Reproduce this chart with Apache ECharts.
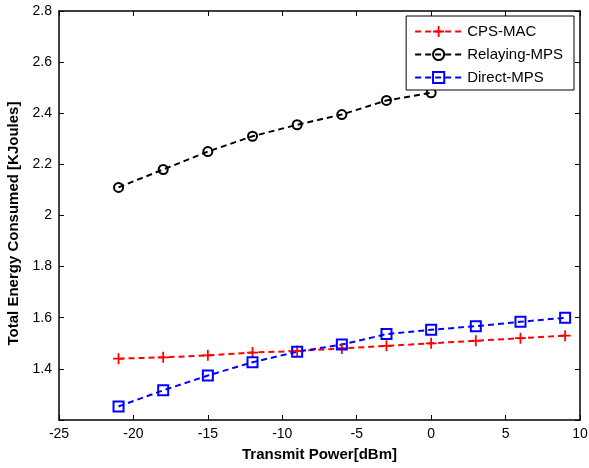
<!DOCTYPE html>
<html><head><meta charset="utf-8">
<script src="https://cdn.jsdelivr.net/npm/echarts@6/dist/echarts.min.js"></script>
<style>html,body{margin:0;padding:0;background:#fff}#c{width:589px;height:468px}</style>
</head><body><div id="c"></div>
<script>
const xCps = [-21,-18,-15,-12,-9,-6,-3,0,3,6,9];
const cpsMac = [1.44,1.445,1.453,1.464,1.47,1.48,1.49,1.50,1.51,1.52,1.53];
const xRelay = [-21,-18,-15,-12,-9,-6,-3,0];
const relayingMps = [2.11,2.18,2.25,2.31,2.355,2.395,2.45,2.48];
const xDirect = [-21,-18,-15,-12,-9,-6,-3,0,3,6,9];
const directMps = [1.253,1.316,1.374,1.426,1.467,1.495,1.536,1.553,1.567,1.584,1.60];
const seriesNames = ['CPS-MAC','Relaying-MPS','Direct-MPS'];
const xTicks = [-25,-20,-15,-10,-5,0,5,10];
const yTicks = [1.4,1.6,1.8,2,2.2,2.4,2.6,2.8];

const pair = (xs, ys) => xs.map((x,i)=>[x,ys[i]]);
const plus = 'path://M4.2,0 H5.8 V4.2 H10 V5.8 H5.8 V10 H4.2 V5.8 H0 V4.2 H4.2 Z';
const font = 'Arial, "Liberation Sans", sans-serif';
const chart = echarts.init(document.getElementById('c'));
const axisCommon = () => ({
  axisLine:{onZero:false,lineStyle:{color:'#000',width:1.5}},
  axisTick:{inside:true,length:5,lineStyle:{color:'#000'}},
  splitLine:{show:false}
});
chart.setOption({
  animation:false,
  backgroundColor:'#fff',
  grid:{left:59,right:9,top:11,bottom:48,outerBoundsMode:'none',containLabel:false},
  legend:{
    data:seriesNames, orient:'vertical', right:15, top:16,
    backgroundColor:'#fff', borderColor:'#000', borderWidth:1,
    padding:[8,11,5,8], itemGap:8, itemWidth:47, itemHeight:14,
    textStyle:{fontFamily:font,fontSize:15,color:'#000'}
  },
  xAxis:[
    Object.assign({type:'value',min:-25,max:10,interval:5,position:'bottom',
      name:'Transmit Power[dBm]',nameLocation:'middle',nameGap:27,
      nameTextStyle:{fontFamily:font,fontSize:15,fontWeight:'bold',color:'#000'},
      axisLabel:{fontFamily:font,fontSize:14,color:'#000',margin:7,
        formatter:v=>xTicks.includes(v)?String(v):''}},axisCommon()),
    Object.assign({type:'value',min:-25,max:10,interval:5,position:'top',axisLabel:{show:false}},axisCommon())
  ],
  yAxis:[
    Object.assign({type:'value',min:1.2,max:2.8,interval:0.2,position:'left',
      name:'Total Energy Consumed [KJoules]',nameLocation:'middle',nameGap:34,
      nameTextStyle:{fontFamily:font,fontSize:15,fontWeight:'bold',color:'#000',padding:[0,16,0,0]},
      axisLabel:{fontFamily:font,fontSize:14,color:'#000',margin:7,
        formatter:v=>{const r=Math.round(v*10)/10; return yTicks.includes(r)?String(r):'';}}},axisCommon()),
    Object.assign({type:'value',min:1.2,max:2.8,interval:0.2,position:'right',axisLabel:{show:false}},axisCommon())
  ],
  series:[
    {name:seriesNames[0],type:'line',data:pair(xCps,cpsMac),symbol:plus,symbolSize:11,
      lineStyle:{color:'#ff0000',width:2,type:[6,4]},itemStyle:{color:'#ff0000'}},
    {name:seriesNames[1],type:'line',data:pair(xRelay,relayingMps),symbol:'circle',symbolSize:9,
      lineStyle:{color:'#000',width:2,type:[6,4]},itemStyle:{color:'rgba(255,255,255,0)',borderColor:'#000',borderWidth:2}},
    {name:seriesNames[2],type:'line',data:pair(xDirect,directMps),symbol:'rect',symbolSize:10,
      lineStyle:{color:'#0000ff',width:2,type:[6,4]},itemStyle:{color:'rgba(255,255,255,0)',borderColor:'#0000ff',borderWidth:2}}
  ]
});
</script></body></html>
